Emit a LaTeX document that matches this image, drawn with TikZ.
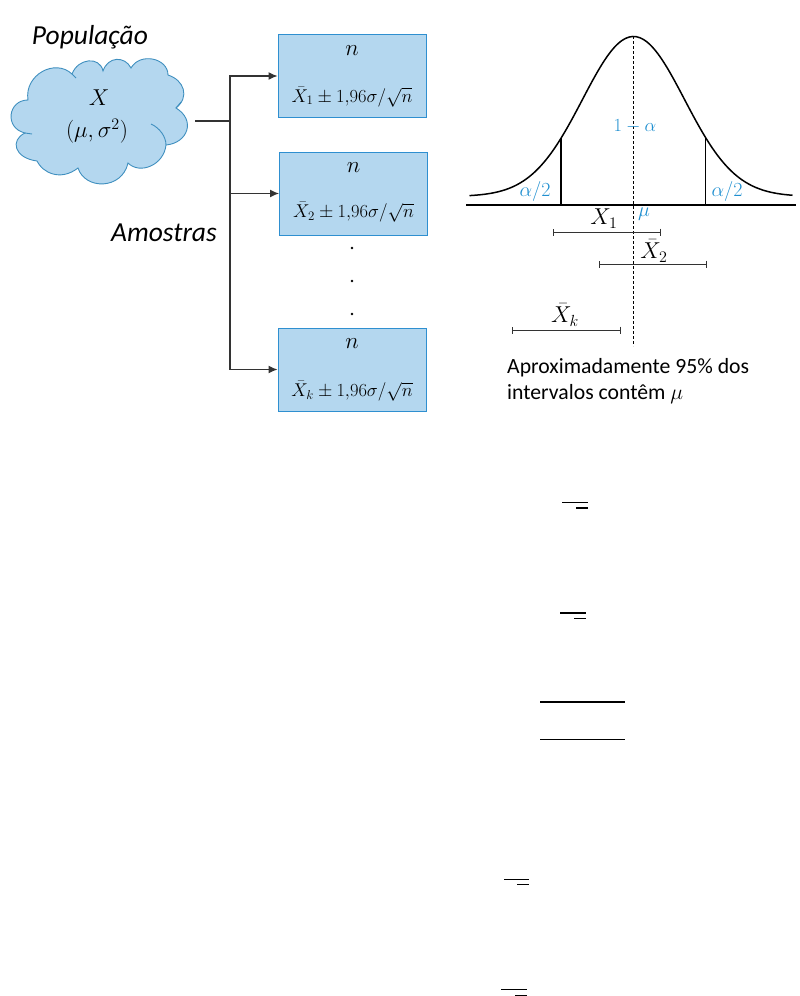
\RequirePackage{fix-cm}
\documentclass[tikz,border=0pt]{standalone}
\usepackage{fontspec}
\setmainfont{Carlito}
\usetikzlibrary{arrows.meta, positioning}
\definecolor{boxfill}{HTML}{B4D7EF}
\definecolor{boxedge}{HTML}{2E8FD0}
\definecolor{cloudedge}{HTML}{3F8FBF}
\definecolor{lblblue}{HTML}{1F8FD0}
\definecolor{wire}{HTML}{333333}
\tikzstyle{sample} = [rectangle, 
			draw = boxedge, 
			fill = boxfill, 
			line width = 1pt, 
			minimum width = 148pt, 
			minimum height = 83pt]
\tikzstyle{title} = [font = \fontsize{27.5}{30}\selectfont\itshape]
\tikzstyle{math} = [font = \fontsize{23}{27}\selectfont, inner sep = 0pt]
\tikzstyle{formula} = [font = \fontsize{18.5}{22}\selectfont, inner sep = 0pt]
\tikzstyle{blue} = [font = \fontsize{20}{24}\selectfont, text = lblblue, inner sep = 0pt]
\tikzstyle{note} = [font = \fontsize{21.7}{26}\selectfont, align = left, anchor = north west, inner sep = 0pt]
\tikzstyle{dotmark} = [circle, fill = black, inner sep = 0pt, minimum size = 2.6pt]
\tikzstyle{line} = [draw = wire, line width = 1.2pt, -{Latex[length=9pt, width=8pt]}]
\tikzstyle{bar} = [draw = wire, line width = 1pt, |-|]
\tikzstyle{rule} = [draw = black]

\begin{document}
\begin{tikzpicture}[x=1pt, y=-1pt]
	\useasboundingbox (0,0) rectangle (800,996);
	% cloud
	\draw [fill = boxfill, draw = cloudedge, line width = 0.9pt] (28,100)
		.. controls (24,75) and (55,58) .. (72,74)
		.. controls (78,58) and (100,56) .. (103,71)
		.. controls (108,56) and (125,56) .. (131,68)
		.. controls (140,52) and (168,58) .. (168,75)
		.. controls (184,80) and (190,97) .. (176,108)
		.. controls (196,120) and (188,143) .. (166,145)
		.. controls (164,165) and (140,175) .. (128,163)
		.. controls (122,190) and (85,190) .. (78,168)
		.. controls (60,182) and (42,172) .. (37,161)
		.. controls (14,158) and (10,140) .. (25,133)
		.. controls (4,128) and (8,100) .. (28,100) -- cycle;
	\draw [draw = cloudedge, line width = 0.9pt] (151,124) .. controls (160,128) and (166,137) .. (166,145);
	\draw [draw = cloudedge, line width = 0.9pt] (25,133) -- (32,134);
	\draw [draw = cloudedge, line width = 0.9pt] (72,74) -- (76,78);
	\draw [draw = cloudedge, line width = 0.9pt] (176,108) -- (181,102);
	\node [math] (popvar) at (99,98) {$X$};
	\node [math] (popparam) at (97,131) {$(\mu,\sigma^2)$};
	\node [title] (poptitle) at (90,37) {População};
	\node [title] (samptitle) at (164,233) {Amostras};
	% samples
	\node [sample] (box1) at (352,76) {};
	\node [sample] (box2) at (353.5,193.5) {};
	\node [sample] (box3) at (352,369.5) {};
	\node [math, below=11pt of box1.north] (n1) {$n$};
	\node [formula, above=11pt of box1.south] (ci1) {$\bar{X}_1\pm 1{,}96\sigma/\sqrt{n}$};
	\node [math, below=11pt of box2.north] (n2) {$n$};
	\node [formula, above=13pt of box2.south] (ci2) {$\bar{X}_2\pm 1{,}96\sigma/\sqrt{n}$};
	\node [math, below=11pt of box3.north] (n3) {$n$};
	\node [formula, above=10pt of box3.south] (ci3) {$\bar{X}_k\pm 1{,}96\sigma/\sqrt{n}$};
	\node [dotmark] (dot1) at (352,248) {};
	\node [dotmark] (dot2) at (352,281) {};
	\node [dotmark] (dot3) at (352,314) {};
	\coordinate (cloudout) at (195,121);
	\coordinate (trunk) at (230,121);
	\draw [draw = wire, line width = 1.2pt] (cloudout) -- (trunk);
	\path [line] (trunk) |- (box1.west);
	\path [line] (trunk) |- (box2.west);
	\path [line] (trunk) |- (box3.west);
	% bell curve
	\draw [line width = 1.5pt, domain = -164:159, samples = 90, smooth] 
		plot ({633.5+\x}, {196.5-160*exp(-(\x/51)*(\x/51)/2)});
	\coordinate (leftfoot) at (561,205);
	\coordinate (rightfoot) at (705.5,205);
	\coordinate (lefttop) at (561,138);
	\coordinate (righttop) at (705.5,138);
	\coordinate (axisl) at (466,205);
	\coordinate (axisr) at (796,205);
	\coordinate (meantop) at (633.5,36);
	\coordinate (meanend) at (633.5,346);
	\draw [line width = 1.5pt] (axisl) -- (axisr);
	\draw [line width = 1.5pt] (leftfoot) -- (lefttop);
	\draw [line width = 1.5pt] (rightfoot) -- (righttop);
	\draw [densely dashed, line width = 0.9pt] (meantop) -- (meanend);
	\node [blue, font = \fontsize{18.5}{22}\selectfont] (central) at (635,126) {$1-\alpha$};
	\node [blue] (tailleft) at (535,191) {$\alpha/2$};
	\node [blue] (tailright) at (727,191) {$\alpha/2$};
	\node [blue] (mean) at (644,214) {$\mu$};
	% intervals
	\coordinate (a1) at (552.5,232);
	\coordinate (b1) at (661,232);
	\coordinate (a2) at (598.5,264);
	\coordinate (b2) at (706.5,264);
	\coordinate (ak) at (512,330);
	\coordinate (bk) at (621,330);
	\path [bar] (a1) -- (b1);
	\path [bar] (a2) -- (b2);
	\path [bar] (ak) -- (bk);
	\node [math] (xbar1) at (604,217) {$\bar{X}_1$};
	\node [math] (xbar2) at (654,251) {$\bar{X}_2$};
	\node [math] (xbark) at (565,315) {$\bar{X}_k$};
	\node [note] (caption) at (507,358) {Aproximadamente 95\% dos\\intervalos contêm $\mu$};
	% stray rules
	\draw [rule, line width = 1pt] (562,502.5) -- (588,502.5);
	\draw [rule, line width = 2pt] (576,508) -- (588,508);
	\draw [rule, line width = 2pt] (560,613) -- (586,613);
	\draw [rule, line width = 1pt] (574,618) -- (586,618);
	\draw [rule, line width = 2pt] (540,701.5) -- (625,701.5);
	\draw [rule, line width = 1.3pt] (540,739.5) -- (625,739.5);
	\draw [rule, line width = 1pt] (504,879.5) -- (529,879.5);
	\draw [rule, line width = 1pt] (517,884.5) -- (529,884.5);
	\draw [rule, line width = 1pt] (501,989) -- (527,989);
	\draw [rule, line width = 1pt] (515,995) -- (527,995);
\end{tikzpicture}
\end{document}
